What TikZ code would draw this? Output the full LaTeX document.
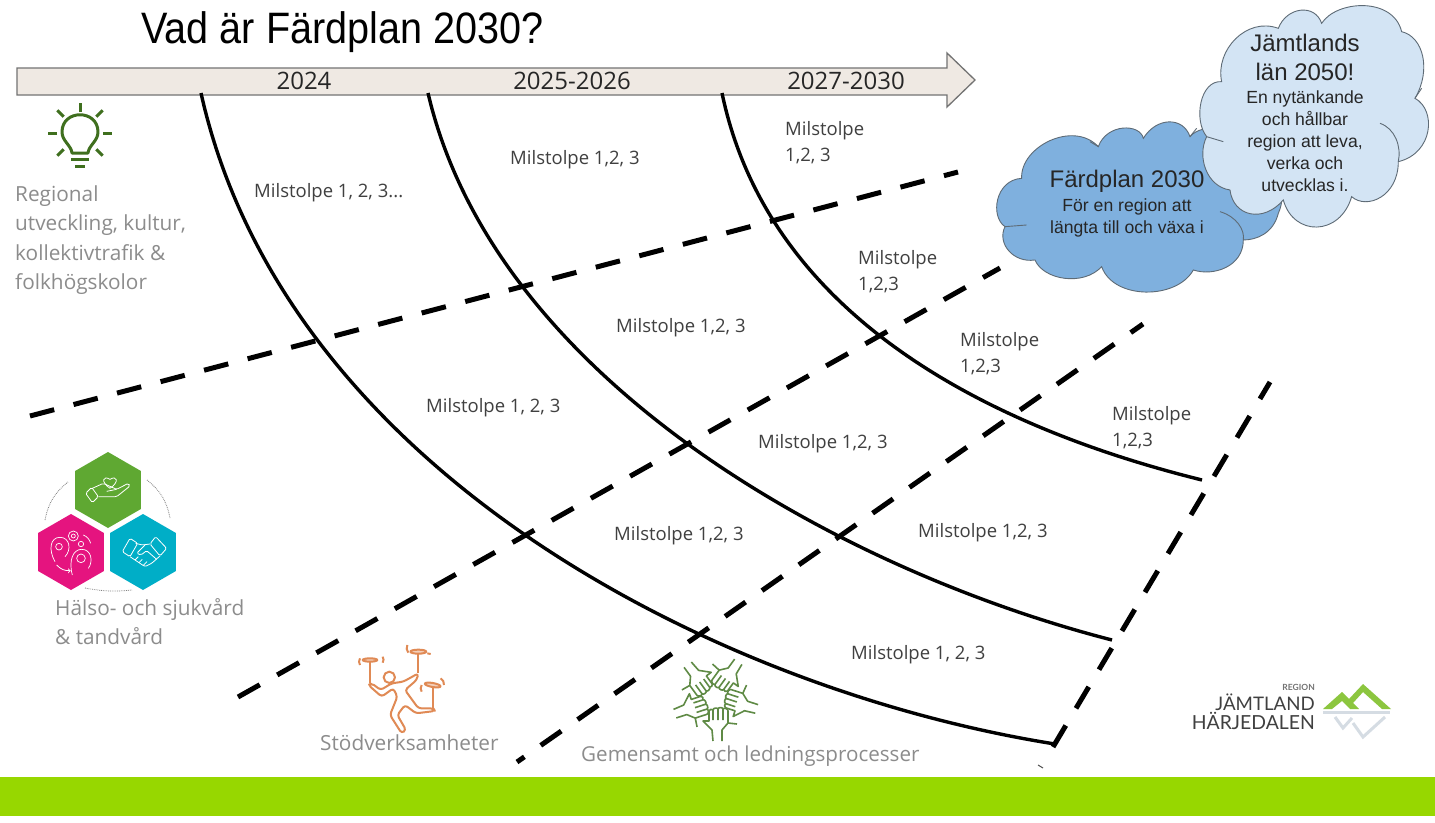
\documentclass[tikz,border=0pt]{standalone}
\usepackage{fontspec}
\setmainfont{Open Sans}
\newfontfamily\arialfont{Liberation Sans}
\newfontfamily\logofont{Lato}
\usepackage{tikz}
\usetikzlibrary{shapes.geometric}
\definecolor{cbar}{HTML}{97D700}
\definecolor{carrow}{HTML}{EFE9E3}
\definecolor{cdark}{HTML}{7FB0DE}
\definecolor{clight}{HTML}{D3E4F4}
\definecolor{cedge}{HTML}{5E6B76}
\definecolor{cbulb}{HTML}{3F6F1E}
\definecolor{chand}{HTML}{5F8A45}
\definecolor{cjuggle}{HTML}{E08A55}
\definecolor{chexg}{HTML}{5FA832}
\definecolor{chexp}{HTML}{E5147F}
\definecolor{chexb}{HTML}{00AEC7}
\definecolor{cmount}{HTML}{8CC63F}
\definecolor{cshade}{HTML}{D5DCE3}
\definecolor{clabel}{HTML}{404040}
\definecolor{cgrey}{HTML}{8C8C8C}

\begin{document}
\begin{tikzpicture}[x=1pt, y=-1pt,
    milestone/.style={anchor=west, inner sep=0pt, text=clabel, align=left, font=\fontsize{18.5}{26}\selectfont},
    area/.style={anchor=west, inner sep=0pt, text=cgrey, align=left},
    year/.style={text=black!85, font=\fontsize{24}{26}\selectfont},
    hexa/.style={regular polygon, regular polygon sides=6, shape border rotate=30, minimum size=76pt, inner sep=0pt},
    icon/.style={white, line width=0.8pt, rounded corners=1.5pt},
    grid line/.style={line width=5pt, dash pattern=on 25pt off 20pt},
    year line/.style={line width=3.4pt},
    cloud edge/.style={draw=cedge, line width=0.9pt},
    big cloud/.style={text=black!85, align=center, font=\arialfont\fontsize{24}{29}\selectfont},
    small cloud/.style={text=black!85, align=center, font=\arialfont\fontsize{17.6}{22}\selectfont}]
  \useasboundingbox (0, 0) rectangle (1435, 822);
  \fill [white] (0, 0) rectangle (1435, 822);
  \fill [cbar] (0, 777) rectangle (1435, 816);

  \node (title) at (342.5, 32) {\arialfont\fontsize{44}{50}\selectfont\addfontfeature{FakeStretch=0.9}Vad är Färdplan 2030?};

  % time arrow
  \draw [fill=carrow, draw=black!55, line width=1.3pt] (17, 68) -- (947, 68) -- (947, 53)
    -- (975, 80) -- (947, 107) -- (947, 95) -- (17, 95) -- cycle;
  \node [year] (y1) at (304, 81) {2024};
  \node [year] (y2) at (572, 81) {2025-2026};
  \node [year] (y3) at (846, 81) {2027-2030};

  % dashed lines
  \draw [grid line] (30, 416) -- (958, 172);
  \draw [grid line] (238, 697) -- (1000, 268);
  \draw [grid line, dash phase=16pt] (517, 762) -- (1143, 324);
  \draw [grid line] (1053, 747) -- (1270, 382);
  \draw [black!70, line width=1pt] (1038, 765) -- (1043, 768);

  % year curves
  \draw [year line] (201, 93) .. controls (285, 470) and (715, 690) .. (1055, 744);
  \draw [year line] (428, 93) .. controls (495, 380) and (840, 570) .. (1112, 640);
  \draw [year line] (722, 93) .. controls (765, 300) and (960, 420) .. (1202, 480);

  % clouds
  \begin{scope}[shift={(1000, 0)}, x=0.3333pt, y=-0.3333pt]
    \draw [cloud edge, fill=cdark] (65,535) .. controls (60,440) and (220,360) .. (295,440)
      .. controls (320,370) and (420,370) .. (430,415)
      .. controls (470,350) and (550,350) .. (570,410)
      .. controls (650,320) and (900,500) .. (835,640)
      .. controls (820,700) and (770,720) .. (730,720)
      .. controls (730,800) and (640,830) .. (580,810)
      .. controls (530,900) and (340,900) .. (305,800)
      .. controls (250,860) and (130,840) .. (105,780)
      .. controls (40,790) and (-10,730) .. (15,680)
      .. controls (-30,650) and (-15,540) .. (65,535) -- cycle;
    \draw [cloud edge] (660,635) .. controls (710,650) and (735,690) .. (730,720);
    \draw [cloud edge] (15,680) -- (80,675);
    \draw [cloud edge] (295,440) -- (270,425);
    \draw [cloud edge] (570,410) -- (590,385);
    \draw [cloud edge, fill=clight] (665,245) .. controls (645,150) and (740,50) .. (835,85)
      .. controls (860,20) and (945,10) .. (965,70)
      .. controls (1010,0) and (1180,-10) .. (1205,95)
      .. controls (1270,110) and (1295,210) .. (1245,295)
      .. controls (1310,330) and (1300,460) .. (1195,485)
      .. controls (1195,590) and (1100,630) .. (1055,590)
      .. controls (1020,710) and (880,710) .. (850,600)
      .. controls (790,670) and (700,650) .. (690,570)
      .. controls (620,560) and (590,470) .. (620,410)
      .. controls (580,360) and (600,240) .. (665,245) -- cycle;
    \draw [cloud edge] (1140,370) .. controls (1185,385) and (1205,440) .. (1195,485);
    \draw [cloud edge] (620,410) -- (670,425);
    \draw [cloud edge] (1245,295) -- (1265,265);
  \end{scope}
  \node [big cloud] (plan) at (1127, 181) {Färdplan 2030};
  \node [small cloud] (plantext) at (1127, 218) {För en region att\\längta till och växa i};
  \node [big cloud] (lan) at (1305, 57) {Jämtlands\\län 2050!};
  \node [small cloud] (lantext) at (1305, 141) {En nytänkande\\och hållbar\\region att leva,\\verka och\\utvecklas i.};

  % milestones
  \node [milestone] (m1) at (254, 193) {Milstolpe 1, 2, 3...};
  \node [milestone] (m2) at (426, 408) {Milstolpe 1, 2, 3};
  \node [milestone] (m3) at (614, 536) {Milstolpe 1,2, 3};
  \node [milestone] (m4) at (851, 655) {Milstolpe 1, 2, 3};
  \node [milestone] (m5) at (510, 160) {Milstolpe 1,2, 3};
  \node [milestone] (m6) at (616, 328) {Milstolpe 1,2, 3};
  \node [milestone] (m7) at (758, 444) {Milstolpe 1,2, 3};
  \node [milestone] (m8) at (918, 533) {Milstolpe 1,2, 3};
  \node [milestone] (m9) at (785, 143) {Milstolpe\\1,2, 3};
  \node [milestone] (m10) at (858, 272) {Milstolpe\\1,2,3};
  \node [milestone] (m11) at (960, 354) {Milstolpe\\1,2,3};
  \node [milestone] (m12) at (1112, 428) {Milstolpe\\1,2,3};

  % areas
  \node [area, font=\fontsize{20.8}{29.3}\selectfont] (regional) at (15, 240) {Regional\\utveckling, kultur,\\kollektivtrafik \&\\folkhögskolor};
  \node [area, font=\fontsize{20.8}{29}\selectfont] (halsa) at (55, 622) {Hälso- och sjukvård\\\& tandvård};
  \node [area, font=\fontsize{20.8}{24}\selectfont] (stod) at (320, 743) {Stödverksamheter};
  \node [area, font=\fontsize{20.6}{24}\selectfont] (gemensamt) at (581, 756) {Gemensamt och ledningsprocesser};

  % bulb
  \begin{scope}[shift={(80, 133)}, line width=3pt]
    \foreach \a in {0, 45, 135, 180, 225, 315}
      \draw [cbulb] (\a:23) -- (\a:32);
    \draw [cbulb] (0, -21) -- (0, -30);
    \draw [cbulb, line join=round] (-8, 20) .. controls (-9, 12) and (-18, 8) .. (-18, -1)
      .. controls (-18, -24) and (18, -24) .. (18, -1)
      .. controls (18, 8) and (9, 12) .. (8, 20) -- cycle;
    \draw [cbulb] (-9, 26) -- (9, 26);
    \draw [cbulb] (-5, 33) -- (5, 33);
  \end{scope}

  % hexagons
  \draw [gray, densely dotted, thick] (45, 520) to[bend left=20] (68, 482);
  \draw [gray, densely dotted, thick] (147, 480) to[bend left=20] (170, 518);
  \draw [gray, densely dotted, thick] (85, 588) to[bend right=8] (132, 590);
  \node [hexa, fill=chexg] (care) at (108, 490) {};
  \node [hexa, fill=chexp] (minds) at (71, 552) {};
  \node [hexa, fill=chexb] (shake) at (143, 552) {};
  \begin{scope}[shift={(35, 450)}, x=0.3333pt, y=-0.3333pt]
    % hand and heart
    \draw [icon] (152,130) -- (170,112) -- (190,140) -- (172,158) -- cycle;
    \draw [icon] (172,115) -- (205,100) -- (245,118) -- (280,100) -- (285,108) -- (245,140) -- (190,140);
    \draw [icon] (215,124) -- (245,118);
    \draw [white, line width=0.8pt] (225,115) .. controls (195,95) and (205,75) .. (225,88)
      .. controls (245,75) and (255,95) .. (225,115);
    % heads and gears
    \draw [white, line width=0.7pt] (60,335) .. controls (40,300) and (45,262) .. (75,262)
      .. controls (105,262) and (110,300) .. (90,320);
    \draw [white, line width=0.7pt] (72,290) circle (10);
    \draw [white, line width=0.7pt] (112,375) .. controls (100,330) and (115,298) .. (140,298)
      .. controls (170,298) and (175,335) .. (160,355);
    \draw [white, line width=0.7pt] (138,325) circle (13);
    \draw [white, line width=0.7pt] (115,258) circle (15) (115,258) circle (6) (138,282) circle (8);
    \draw [white, line width=0.7pt] (145,255) to[bend left=25] (167,280);
    \draw [white, line width=0.8pt, ->] (65,345) to[bend right=25] (107,362);
    % handshake
    \draw [icon] (262,305) -- (285,265) -- (308,280) -- (285,320) -- cycle;
    \draw [icon] (395,295) -- (362,260) -- (345,282) -- (375,318) -- cycle;
    \draw [icon] (302,280) -- (322,285) -- (345,282);
    \draw [icon] (285,320) -- (330,350) -- (350,340) -- (375,318);
    \draw [icon] (330,285) -- (305,310) -- (318,315) -- (335,302) -- (365,328);
    \draw [icon] (300,330) -- (310,320) (312,338) -- (322,328) (325,346) -- (336,335);
  \end{scope}

  % juggler
  \begin{scope}[shift={(310, 630)}, x=0.3333pt, y=-0.3333pt, line width=2pt, line join=round]
    \draw [cjuggle] (238, 142) circle (17);
    \draw [cjuggle, rounded corners=3pt] (175,165) -- (215,200) -- (250,175) -- (262,200) -- (240,255) -- (275,310)
      -- (288,300) -- (262,255) -- (285,225) -- (318,250) -- (375,243) -- (370,235) -- (325,235) -- (285,180)
      -- (320,150) -- (325,130) -- (280,155) -- (245,160) -- (212,180) -- (185,160) -- cycle;
    \draw [cjuggle] (180,95) -- (180,160) (325,70) -- (325,130) (368,170) -- (368,235);
    \draw [cjuggle, fill=cjuggle!40] (180,90) ellipse (22 and 5) (325,65) ellipse (24 and 6);
    \draw [cjuggle, fill=cjuggle!40, rotate around={-10:(368,165)}] (368,165) ellipse (24 and 6);
    \draw [cjuggle] (150,85) to[bend right=30] (150,105) (218,80) to[bend left=30] (218,98);
    \draw [cjuggle] (292,45) to[bend right=30] (295,68) (352,70) -- (362,72);
    \draw [cjuggle] (335,165) to[bend right=30] (335,185) (392,145) to[bend left=30] (402,165);
  \end{scope}

  % hands
  \foreach \r in {0, 72, 144, 216, 288}
    \draw [chand, line width=1.6pt, line join=round, rotate around={\r:(715, 698)}, shift={(715, 698)}]
      (-2, 43) -- (-3, 32) -- (-12, 23) -- (-6, 23) -- (-6, 13) to[bend left=80] (-2, 12) -- (-2, 22)
      (-2, 12) to[bend left=80] (3, 11) -- (3, 22)
      (3, 11) to[bend left=80] (8, 11) -- (8, 22)
      (8, 11) to[bend left=80] (13, 13) -- (13, 25) -- (22, 26)
      (13, 25) -- (7, 32) -- (7, 43);

  % logo
  \node [anchor=east, inner sep=0pt, text=black!55, font=\logofont\bfseries\fontsize{8.5}{10}\selectfont] (region) at (1315, 687) {REGION};
  \node [anchor=east, inner sep=0pt, text=black!75, font=\logofont\fontsize{18.7}{20}\selectfont] (jamtland) at (1315, 702) {JÄMTLAND};
  \node [anchor=east, inner sep=0pt, text=black!75, font=\logofont\fontsize{19.4}{20}\selectfont] (harjedalen) at (1315, 721) {HÄRJEDALEN};
  \fill [cmount] (1323, 709) -- (1342, 692) -- (1349, 699) -- (1363, 684) -- (1391, 709) -- (1382, 709) -- (1363, 692)
    -- (1353, 703) -- (1359, 709) -- (1350, 709) -- (1342, 701) -- (1332, 709) -- cycle;
  \draw [cshade, line width=3pt] (1323, 712) -- (1390, 712);
  \draw [cshade, line width=3pt] (1335, 717) -- (1343, 728) -- (1352, 718);
  \draw [cshade, line width=3pt] (1353, 723) -- (1363, 737) -- (1385, 717);
\end{tikzpicture}
\end{document}
